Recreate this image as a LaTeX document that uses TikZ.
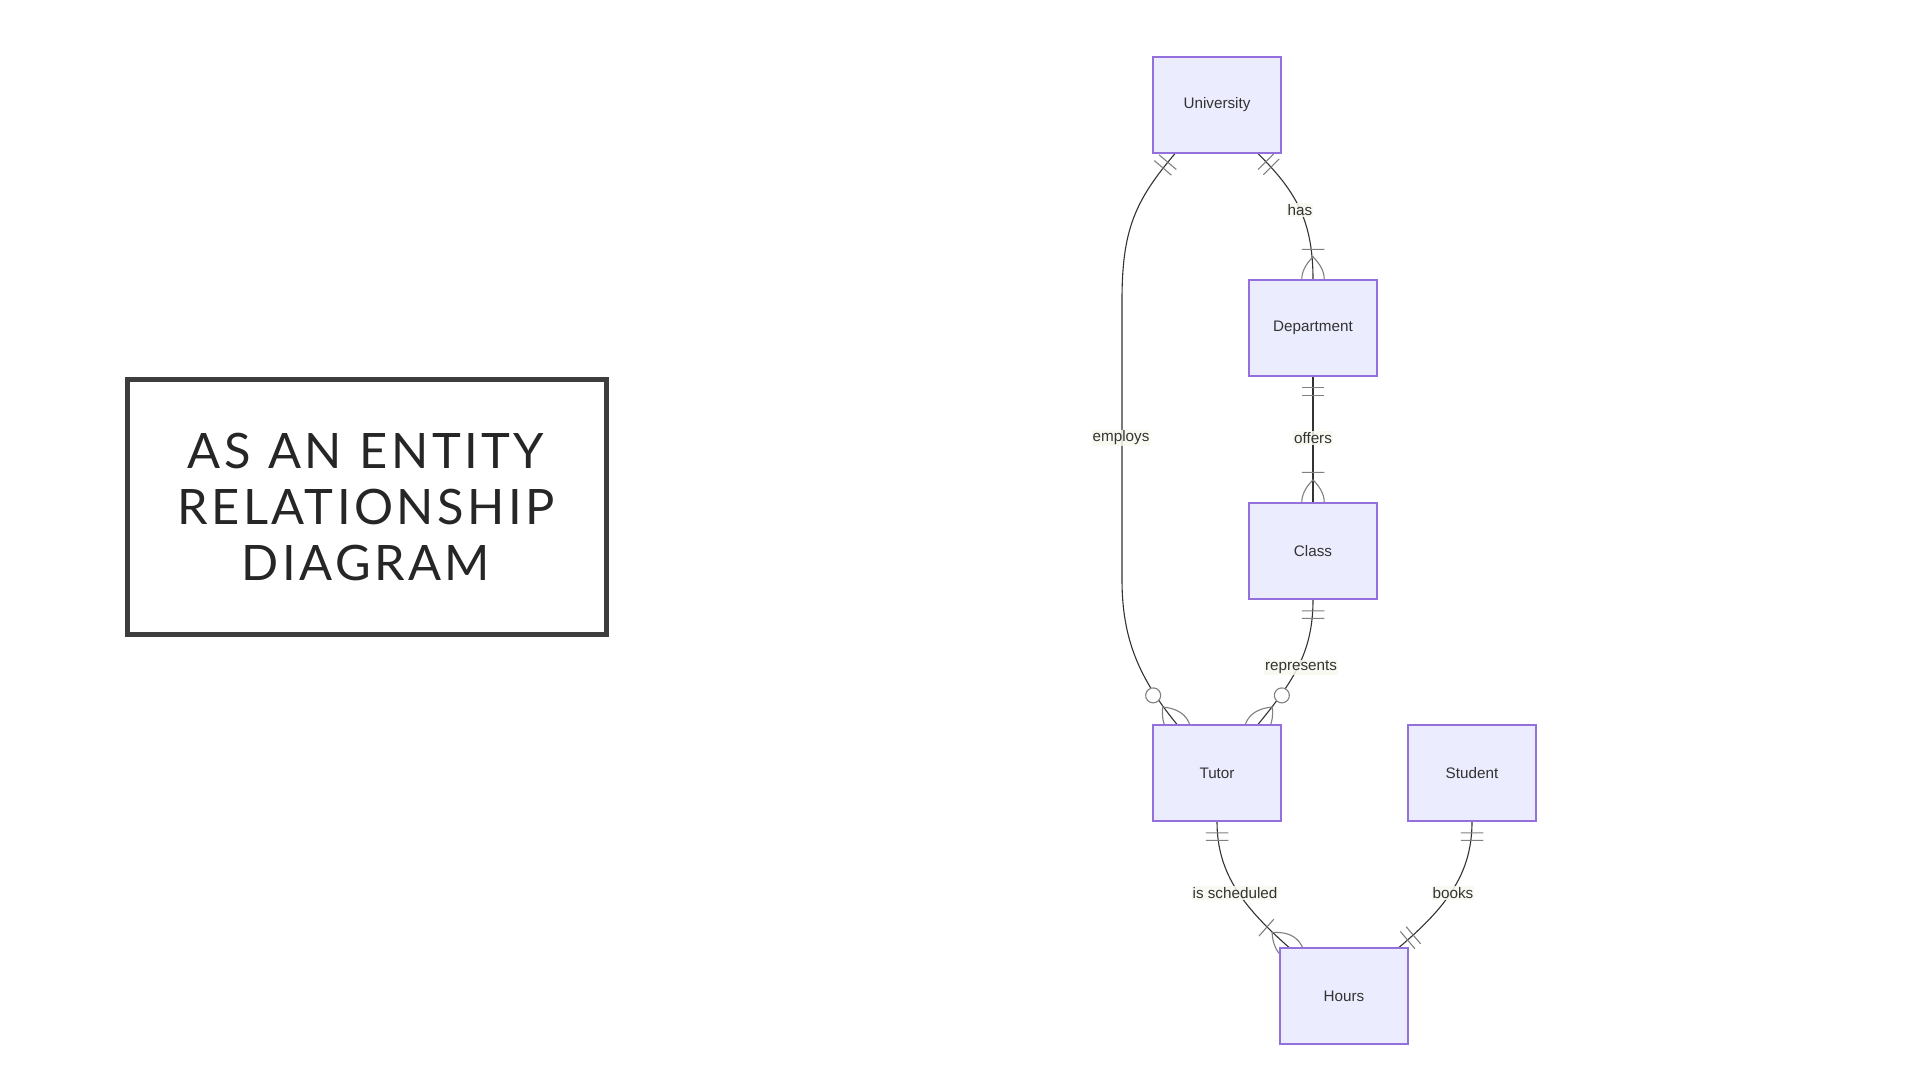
\documentclass[tikz,border=0pt]{standalone}
\usepackage{fontspec}
\setmainfont{Liberation Sans}
\newfontfamily\titlefont{Lato}[LetterSpace=7,WordSpace=1.1]
\usetikzlibrary{decorations.markings,backgrounds}
\definecolor{entfill}{HTML}{ECECFF}
\definecolor{entdraw}{HTML}{9370DB}
\definecolor{txt}{HTML}{333333}
\definecolor{edgec}{HTML}{333333}
\definecolor{lblbg}{HTML}{F7F9EE}
\definecolor{titlec}{HTML}{262626}
\definecolor{framec}{HTML}{3D3D3D}
\tikzset{
  entity/.style={draw=entdraw, fill=entfill, line width=1.2bp, minimum width=128bp, minimum height=96bp, inner sep=0pt, text=txt, font=\fontsize{15.3}{18}\selectfont},
  lbl/.style={fill=lblbg, fill opacity=0.85, text opacity=1, text=txt, inner sep=1bp, font=\fontsize{15.3}{18}\selectfont},
  rel/.style={draw=edgec, line width=1.1bp},
  mk/.style={draw=gray, line width=1.1bp},
  onestart/.style={postaction={decorate,decoration={markings,mark=at position 0 with {\draw[mk] (11.25,-11.25)--(11.25,11.25) (18.75,-11.25)--(18.75,11.25);}}}},
  oneend/.style={postaction={decorate,decoration={markings,mark=at position -0.05pt with {\draw[mk] (-11.25,-11.25)--(-11.25,11.25) (-18.75,-11.25)--(-18.75,11.25);}}}},
  manyend/.style={postaction={decorate,decoration={markings,mark=at position -0.05pt with {\draw[mk] (-30,-11.25)--(-30,11.25) (-22.5,0) .. controls (-7.5,15) and (7.5,15) .. (22.5,0) .. controls (7.5,-15) and (-7.5,-15) .. cycle;}}}},
  zmanyend/.style={postaction={decorate,decoration={markings,mark=at position -0.05pt with {\draw[mk,fill=white] (-37.5,0) circle[radius=7.5]; \draw[mk] (-22.5,0) .. controls (-7.5,15) and (7.5,15) .. (22.5,0) .. controls (7.5,-15) and (-7.5,-15) .. cycle;}}}}
}
\begin{document}
\begin{tikzpicture}[x=1bp,y=-1bp]
\useasboundingbox (0,0) rectangle (1920,1080);
% title
\draw[framec, line width=5bp] (127.5,379.5) rectangle (606.5,634.5);
\node[text=titlec, align=center, font=\titlefont\fontsize{49}{56}\selectfont] (title) at (366,507) {AS AN ENTITY\\RELATIONSHIP\\DIAGRAM};
% entities
\node[entity] (uni) at (1217,105) {University};
\node[entity] (dept) at (1313,328) {Department};
\node[entity] (class) at (1313,551) {Class};
\node[entity] (tutor) at (1217,773) {Tutor};
\node[entity] (student) at (1472,773) {Student};
\node[entity] (hours) at (1344,996) {Hours};
\coordinate (empA) at (1122,300);
\coordinate (empB) at (1122,580);
% relations
\begin{pgfonlayer}{background}
\fill[white] (0,0) rectangle (1920,1080);
\draw[rel,onestart,manyend] ([xshift=41bp]uni.south) .. controls +(37,37) and +(0,-60) .. (dept.north);
\draw[rel,onestart] ([xshift=-42bp]uni.south) .. controls +(-40,47) and +(0,-70) .. (empA) -- (empB);
\draw[rel,zmanyend] (empB) .. controls +(0,60) and +(-37,-45) .. ([xshift=-40bp]tutor.north);
\draw[rel,onestart,manyend] (dept.south) -- (class.north);
\draw[rel,onestart,zmanyend] (class.south) .. controls +(0,51) and +(37,-45) .. ([xshift=41bp]tutor.north);
\draw[rel,onestart,manyend] (tutor.south) .. controls +(0,49) and +(-49,-43) .. ([xshift=-55bp]hours.north);
\draw[rel,onestart,oneend] (student.south) .. controls +(0,49) and +(51,-43) .. ([xshift=55bp]hours.north);
\end{pgfonlayer}
% labels
\node[lbl] (lhas) at (1300,210) {has};
\node[lbl] (lemp) at (1121,438) {employs};
\node[lbl] (loff) at (1313,438) {offers};
\node[lbl] (lrep) at (1301,667) {represents};
\node[lbl] (lsch) at (1235,893) {is scheduled};
\node[lbl] (lbook) at (1453,893) {books};
\end{tikzpicture}
\end{document}
